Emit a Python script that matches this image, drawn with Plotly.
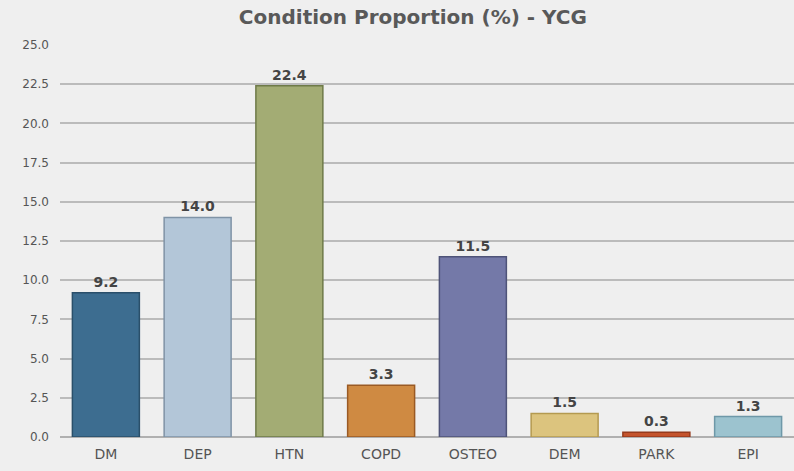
import plotly.graph_objects as go

categories = ["DM", "DEP", "HTN", "COPD", "OSTEO", "DEM", "PARK", "EPI"]
proportions = [9.2, 14.0, 22.4, 3.3, 11.5, 1.5, 0.3, 1.3]
y_ticks = [0, 2.5, 5, 7.5, 10, 12.5, 15, 17.5, 20, 22.5, 25]

fill_colors = ["#3d6d90", "#b3c6d8", "#a3ac74", "#cf8a42", "#7479a8", "#dcc47e", "#c4532c", "#9cc3cf"]
edge_colors = ["#2a4f6a", "#7f93a6", "#6e7a48", "#9a5a24", "#4e5378", "#b49a50", "#963a1c", "#6e98a8"]

fig = go.Figure(go.Bar(
    x=categories,
    y=proportions,
    width=0.73,
    marker=dict(color=fill_colors, line=dict(color=edge_colors, width=1.5)),
    texttemplate="%{y:.1f}",
    textposition="outside",
    textfont=dict(family="DejaVu Sans", size=14, color="#444444", weight="bold"),
    cliponaxis=False,
))

fig.update_layout(
    title=dict(
        text="Condition Proportion (%) - YCG",
        x=0.52, xanchor="center", y=0.964, yanchor="middle",
        font=dict(family="DejaVu Sans", size=20, color="#595959", weight="bold"),
    ),
    width=794,
    height=471,
    margin=dict(l=60, r=0, t=45, b=34),
    paper_bgcolor="#efefef",
    plot_bgcolor="#efefef",
    showlegend=False,
    xaxis=dict(
        tickfont=dict(family="DejaVu Sans", size=14, color="#555555"),
        ticklabelstandoff=7,
        showgrid=False,
        showline=False,
        ticks="",
    ),
    yaxis=dict(
        range=[0, 25],
        tickvals=y_ticks,
        tickformat=".1f",
        tickfont=dict(family="DejaVu Sans", size=12, color="#555555"),
        ticklabelstandoff=10,
        showgrid=True,
        gridcolor="#bbbbbb",
        gridwidth=1.5,
        zeroline=True,
        zerolinecolor="#b0b0b0",
        zerolinewidth=2,
        ticks="",
    ),
    bargap=0.27,
)

fig.write_html(
    "out.html",
    config={"displayModeBar": False},
    post_script="document.body.style.margin='0';",
)
